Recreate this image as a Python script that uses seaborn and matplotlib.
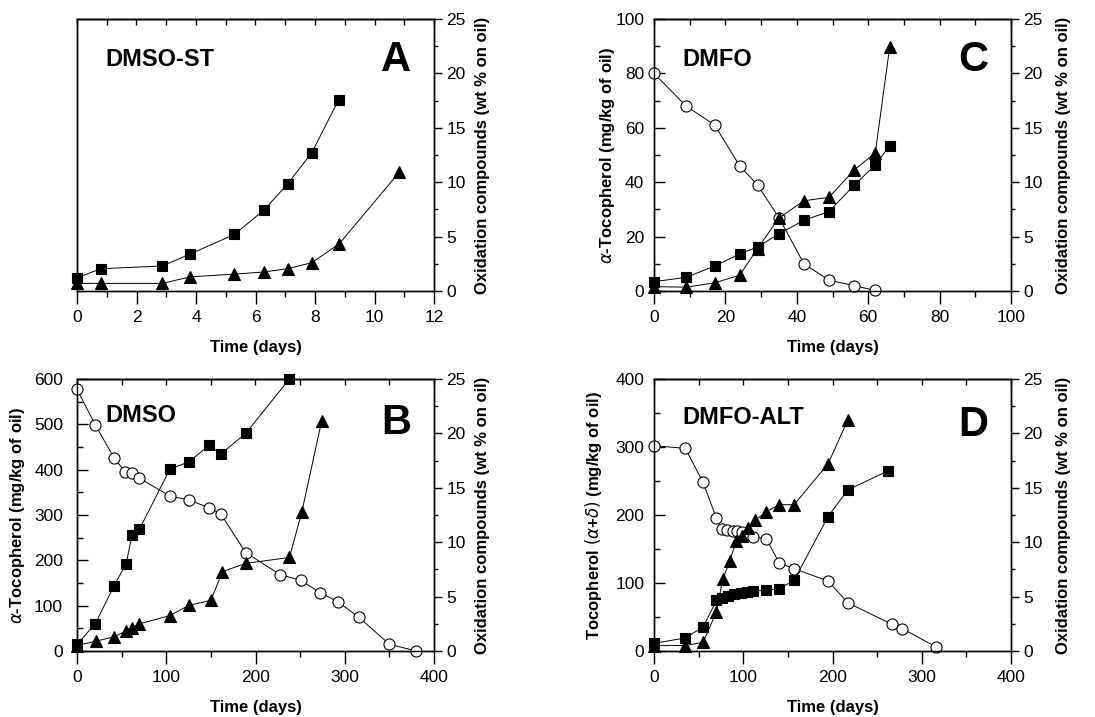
import matplotlib
matplotlib.use("Agg")
import matplotlib.pyplot as plt
from matplotlib.ticker import MultipleLocator
import seaborn as sns

# ---------------- data ----------------
# Panel A: DMSO-ST
A_sq_t = [0, 0.8, 2.87, 3.8, 5.29, 6.29, 7.08, 7.89, 8.8]
A_sq_v = [1.2, 2.05, 2.3, 3.4, 5.2, 7.45, 9.85, 12.7, 17.6]
A_tri_t = [0, 0.8, 2.87, 3.8, 5.29, 6.29, 7.08, 7.89, 8.8, 10.83]
A_tri_v = [0.7, 0.7, 0.7, 1.3, 1.55, 1.75, 2.05, 2.6, 4.3, 10.9]

# Panel C: DMFO
C_circ_t = [0, 9, 17, 24, 29, 35, 42, 49, 56, 62]
C_circ_v = [80, 68, 61, 46, 39, 27, 10, 4, 2, 0.2]
C_sq_t = [0, 9, 17, 24, 29, 35, 42, 49, 56, 62, 66]
C_sq_v = [0.86, 1.25, 2.3, 3.4, 4.05, 5.25, 6.5, 7.3, 9.7, 11.6, 13.35]
C_tri_t = [0, 9, 17, 24, 29, 35, 42, 49, 56, 62, 66]
C_tri_v = [0.4, 0.35, 0.75, 1.45, 3.9, 6.7, 8.3, 8.6, 11.1, 12.7, 22.4]

# Panel B: DMSO
B_circ_t = [0, 20.5, 41.5, 54, 61.5, 70, 104, 125.5, 148, 161, 189, 228, 251, 272, 292, 316, 350, 380]
B_circ_v = [577, 499, 426, 395, 392, 381, 342, 333, 316, 303, 217, 168, 156, 129, 109, 74, 15, 0]
B_sq_t = [0, 20.5, 41.5, 55, 61.6, 70, 104, 125.5, 148, 161, 189, 238]
B_sq_v = [0.6, 2.5, 6.0, 8.0, 10.65, 11.2, 16.7, 17.4, 18.9, 18.1, 20.0, 25.0]
B_tri_t = [0, 21, 41.5, 55, 61.6, 70, 104, 125.5, 150, 163, 189, 238, 252, 274]
B_tri_v = [0.5, 0.9, 1.3, 1.85, 2.15, 2.5, 3.25, 4.2, 4.65, 7.3, 8.05, 8.6, 12.8, 21.1]

# Panel D: DMFO-ALT
D_circ_t = [0, 35, 55, 70, 76, 82, 88, 93, 99, 105, 111, 126, 140, 157, 195, 217, 267, 278, 316]
D_circ_v = [302, 298, 248, 195, 180, 178, 177, 176, 175, 172, 168, 165, 130, 121, 103, 71, 39, 33, 6]
D_sq_t = [0, 35, 55, 70, 76, 83, 90, 97, 104, 111, 126, 140, 157, 195, 217, 262]
D_sq_v = [0.7, 1.2, 2.2, 4.66, 4.85, 5.05, 5.2, 5.32, 5.42, 5.52, 5.6, 5.7, 6.5, 12.35, 14.8, 16.55]
D_tri_t = [0, 35, 55, 70, 77, 85, 92, 99, 105, 113, 126, 140, 157, 195, 217]
D_tri_v = [0.5, 0.5, 0.8, 3.6, 6.6, 8.3, 10.1, 10.6, 11.3, 12.0, 12.8, 13.45, 13.45, 17.2, 21.2]

# ---------------- style ----------------
sns.set_style("ticks")
plt.rcParams["font.family"] = ["Liberation Sans", "DejaVu Sans"]
plt.rcParams["mathtext.fontset"] = "dejavusans"
plt.rcParams["axes.linewidth"] = 1.0
for k in ("text.color", "axes.labelcolor", "xtick.color", "ytick.color", "axes.edgecolor"):
    plt.rcParams[k] = "black"

fig = plt.figure(figsize=(10.95, 7.17), dpi=100)
W, H = 1095, 717


def make_axes(left_px, top_px):
    return fig.add_axes([left_px / W, 1 - (top_px + 272) / H, 357 / W, 272 / H])


def draw(ax, x, y, marker, size, face="black"):
    sns.lineplot(x=x, y=y, ax=ax, color="black", marker=marker, markersize=size,
                 markerfacecolor=face, markeredgecolor="black", markeredgewidth=0.8,
                 linewidth=0.7, clip_on=False, estimator=None, sort=False, zorder=3)


def setup(ax, ax2, xmax, xmaj, xmin, ymax=None, ymaj=None, ymin=None, left_label=None,
          left_lab_x=-0.13, ypad=7):
    ax.set_xlim(0, xmax)
    ax.xaxis.set_major_locator(MultipleLocator(xmaj))
    ax.xaxis.set_minor_locator(MultipleLocator(xmin))
    ax.tick_params(axis="x", which="major", direction="out", length=9, width=1,
                   top=False, bottom=True, labelsize=12.5, pad=5, colors="black")
    ax.tick_params(axis="x", which="minor", direction="out", length=4.5, width=1,
                   top=False, bottom=True, colors="black")
    sec = ax.secondary_xaxis("top")
    sec.xaxis.set_major_locator(MultipleLocator(xmin))
    sec.tick_params(axis="x", which="major", direction="in", length=4, width=1,
                    labeltop=False, colors="black")
    sec.spines["top"].set_linewidth(1.0)
    sec.spines["top"].set_color("black")
    ax.set_xlabel("Time (days)", fontsize=12, fontweight="bold")
    ax.xaxis.set_label_coords(0.5, -0.18)
    if ymax is not None:
        ax.set_ylim(0, ymax)
        ax.yaxis.set_major_locator(MultipleLocator(ymaj))
        ax.yaxis.set_minor_locator(MultipleLocator(ymin))
        ax.tick_params(axis="y", which="major", direction="in", length=8, width=1,
                       left=True, right=False, labelsize=12.5, pad=ypad, colors="black")
        ax.tick_params(axis="y", which="minor", direction="in", length=4.5, width=1,
                       left=True, right=False, colors="black")
        ax.set_ylabel(left_label, fontsize=12, fontweight="bold")
        ax.yaxis.set_label_coords(left_lab_x, 0.5)
    else:
        ax.set_ylim(0, 1)
        ax.tick_params(axis="y", which="both", left=False, right=False, labelleft=False)
        ax.set_ylabel("")
    ax2.set_ylim(0, 25)
    ax2.yaxis.set_major_locator(MultipleLocator(5))
    ax2.yaxis.set_minor_locator(MultipleLocator(2.5))
    ax2.tick_params(axis="y", which="major", direction="out", length=6, width=1,
                    right=True, labelsize=12.5, pad=3, colors="black")
    ax2.tick_params(axis="y", which="minor", direction="out", length=3, width=1, right=True,
                    colors="black")
    ax2.set_ylabel("Oxidation compounds (wt % on oil)", fontsize=12, fontweight="bold",
                   rotation=90)
    ax2.yaxis.set_label_coords(1.115, 0.5)
    for a in (ax, ax2):
        for s in a.spines.values():
            s.set_linewidth(1.0)
            s.set_color("black")
            s.set_visible(True)


def titles(ax, name, letter, name_y=0.85, letter_y=0.85):
    ax.text(0.08, name_y, name, transform=ax.transAxes, fontsize=17, fontweight="bold",
            ha="left", va="center")
    ax.text(0.935, letter_y, letter, transform=ax.transAxes, fontsize=30, fontweight="bold",
            ha="right", va="center")


# Panel A
axA = make_axes(77, 19)
axA2 = axA.twinx()
setup(axA, axA2, 12, 2, 1)
draw(axA2, A_sq_t, A_sq_v, "s", 7)
draw(axA2, A_tri_t, A_tri_v, "^", 8.5)
axA2.set_xlabel("")
titles(axA, "DMSO-ST", "A")

# Panel C
axC = make_axes(654, 19)
axC2 = axC.twinx()
draw(axC, C_circ_t, C_circ_v, "o", 8, face="white")
draw(axC2, C_sq_t, C_sq_v, "s", 7)
draw(axC2, C_tri_t, C_tri_v, "^", 8.5)
setup(axC, axC2, 100, 20, 10, 100, 20, 10, r"$\alpha$-Tocopherol (mg/kg of oil)",
      left_lab_x=-0.105, ypad=7)
axC2.set_xlabel("")
axC2.yaxis.set_label_coords(1.125, 0.5)
titles(axC, "DMFO", "C")

# Panel B
axB = make_axes(77, 379)
axB2 = axB.twinx()
draw(axB, B_circ_t, B_circ_v, "o", 8, face="white")
draw(axB2, B_sq_t, B_sq_v, "s", 7)
draw(axB2, B_tri_t, B_tri_v, "^", 8.5)
setup(axB, axB2, 400, 100, 50, 600, 100, 50, r"$\alpha$-Tocopherol (mg/kg of oil)",
      left_lab_x=-0.14, ypad=10)
axB2.set_xlabel("")
titles(axB, "DMSO", "B", name_y=0.865, letter_y=0.84)

# Panel D
axD = make_axes(654, 379)
axD2 = axD.twinx()
draw(axD, D_circ_t, D_circ_v, "o", 8, face="white")
draw(axD2, D_sq_t, D_sq_v, "s", 7)
draw(axD2, D_tri_t, D_tri_v, "^", 8.5)
setup(axD, axD2, 400, 100, 50, 400, 100, 50, r"Tocopherol $(\alpha$+$\delta)$ (mg/kg of oil)",
      left_lab_x=-0.14, ypad=7)
axD2.set_xlabel("")
axD2.yaxis.set_label_coords(1.125, 0.5)
titles(axD, "DMFO-ALT", "D", name_y=0.86, letter_y=0.83)

fig.savefig("out.png", dpi=100, facecolor="white")
